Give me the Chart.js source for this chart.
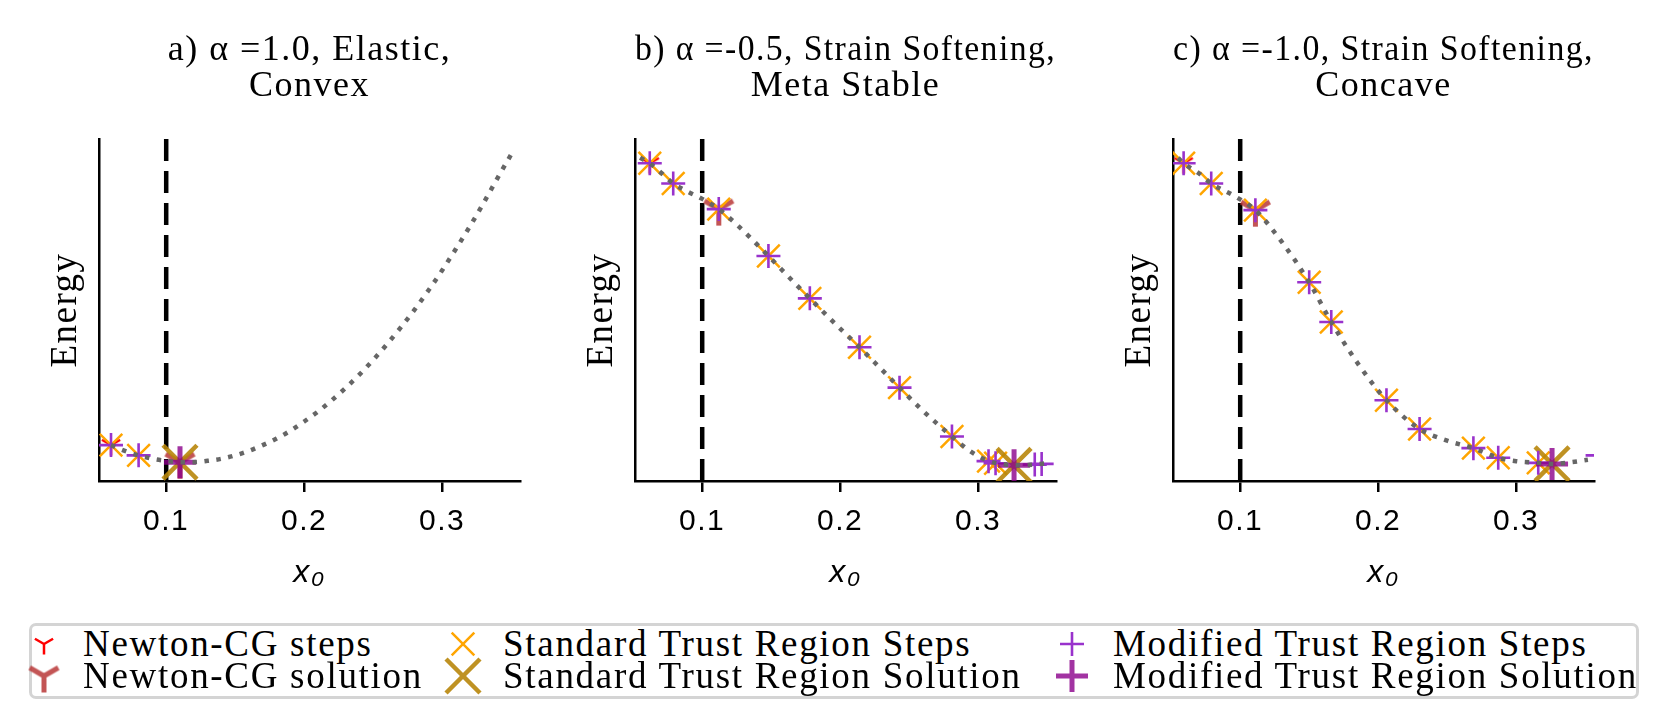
<!DOCTYPE html>
<html>
<head>
<meta charset="utf-8">
<script src="https://cdn.jsdelivr.net/npm/chart.js@4.4.0/dist/chart.umd.min.js"></script>
<style>
  body { margin: 0; background: #fff; width: 1666px; height: 728px; position: relative; overflow: hidden; }
  .panel { position: absolute; top: 0; }
  #legend { position: absolute; left: 29px; top: 623px; width: 1610px; height: 76px; box-sizing: border-box;
            border: 3px solid #d4d4d4; border-radius: 7px; }
  .lbl { position: absolute; font-family: 'Liberation Serif'; font-size: 37px; letter-spacing: 1.7px; line-height: 36px;
         white-space: nowrap; color: #000; }
  .mk { position: absolute; }
</style>
</head>
<body>
<div class="panel" style="left:0px"><canvas id="ca" width="560" height="610"></canvas></div>
<div class="panel" style="left:536px"><canvas id="cb" width="560" height="610"></canvas></div>
<div class="panel" style="left:1074px"><canvas id="cc" width="560" height="610"></canvas></div>
<div id="legend"></div>
<script>
// shared axis
const xTicks = [0.1, 0.2, 0.3];
const xTickLabels = ['0.1', '0.2', '0.3'];
const xRange = [0.0513, 0.3564];
const boundaryX = 0.1;

// a) alpha = 1.0
const aTitle = ['a) α =1.0, Elastic,', 'Convex'];
const aCurveX = [0.06, 0.07, 0.08, 0.09, 0.10, 0.11, 0.12, 0.13, 0.14, 0.15, 0.16, 0.17, 0.18, 0.19, 0.20, 0.21, 0.22, 0.23,
                 0.24, 0.25, 0.26, 0.27, 0.28, 0.29, 0.30, 0.31, 0.32, 0.33, 0.34, 0.35];
const aCurveY = [0.105, 0.088, 0.075, 0.065, 0.059, 0.055, 0.055, 0.059, 0.065, 0.075, 0.088, 0.105, 0.124, 0.147, 0.174,
                 0.203, 0.236, 0.272, 0.311, 0.354, 0.400, 0.449, 0.501, 0.557, 0.616, 0.679, 0.744, 0.813, 0.885, 0.955];
const aNewtonStepX = [0.06];
const aNewtonStepY = [0.105];
const aNewtonSolX = [0.11];
const aNewtonSolY = [0.055];
const aStdStepX = [0.06, 0.08];
const aStdStepY = [0.105, 0.075];
const aStdSolX = [0.11];
const aStdSolY = [0.055];
const aModStepX = [0.06, 0.08];
const aModStepY = [0.105, 0.075];
const aModSolX = [0.11];
const aModSolY = [0.055];

// b) alpha = -0.5
const bTitle = ['b) α =-0.5, Strain Softening,', 'Meta Stable'];
const bCurveX = [0.055, 0.062, 0.07, 0.079, 0.09, 0.10, 0.112, 0.125, 0.148, 0.165, 0.178, 0.195, 0.214, 0.23, 0.243,
                 0.26, 0.281, 0.295, 0.308, 0.32, 0.33, 0.34, 0.35];
const bCurveY = [0.945, 0.929, 0.902, 0.870, 0.845, 0.825, 0.795, 0.750, 0.658, 0.587, 0.534, 0.465, 0.391, 0.326, 0.273,
                 0.205, 0.130, 0.085, 0.058, 0.048, 0.046, 0.048, 0.052];
const bNewtonStepX = [0.062];
const bNewtonStepY = [0.929];
const bNewtonSolX = [0.112];
const bNewtonSolY = [0.795];
const bStdStepX = [0.062, 0.079, 0.112, 0.148, 0.178, 0.214, 0.243, 0.281, 0.3075, 0.3126];
const bStdStepY = [0.929, 0.870, 0.795, 0.658, 0.534, 0.391, 0.273, 0.130, 0.058, 0.052];
const bStdSolX = [0.326];
const bStdSolY = [0.046];
const bModStepX = [0.062, 0.079, 0.112, 0.148, 0.178, 0.214, 0.243, 0.281, 0.3075, 0.3126, 0.341, 0.346];
const bModStepY = [0.929, 0.870, 0.795, 0.658, 0.534, 0.391, 0.273, 0.130, 0.058, 0.052, 0.048, 0.050];
const bModSolX = [0.326];
const bModSolY = [0.046];

// c) alpha = -1.0
const cTitle = ['c) α =-1.0, Strain Softening,', 'Concave'];
const cCurveX = [0.055, 0.059, 0.07, 0.079, 0.095, 0.111, 0.13, 0.15, 0.166, 0.185, 0.206, 0.23, 0.25, 0.269, 0.287,
                 0.30, 0.316, 0.326, 0.34, 0.352];
const cCurveY = [0.945, 0.929, 0.900, 0.870, 0.835, 0.792, 0.700, 0.581, 0.465, 0.345, 0.236, 0.152, 0.118, 0.096, 0.068,
                 0.058, 0.053, 0.050, 0.055, 0.062];
const cNewtonStepX = [0.059];
const cNewtonStepY = [0.929];
const cNewtonSolX = [0.111];
const cNewtonSolY = [0.792];
const cStdStepX = [0.059, 0.079, 0.111, 0.150, 0.166, 0.206, 0.230, 0.269, 0.287, 0.316];
const cStdStepY = [0.929, 0.870, 0.792, 0.581, 0.465, 0.236, 0.152, 0.096, 0.068, 0.053];
const cStdSolX = [0.326];
const cStdSolY = [0.050];
const cModStepX = [0.059, 0.079, 0.111, 0.150, 0.166, 0.206, 0.230, 0.269, 0.287, 0.316, 0.359];
const cModStepY = [0.929, 0.870, 0.792, 0.581, 0.465, 0.236, 0.152, 0.096, 0.068, 0.053, 0.075];
const cModSolX = [0.326];
const cModSolY = [0.050];

const legendLabels = ['Newton-CG steps', 'Newton-CG solution', 'Standard Trust Region Steps',
                      'Standard Trust Region Solution', 'Modified Trust Region Steps', 'Modified Trust Region Solution'];

function pts(xs, ys) {
  return xs.map((x, i) => ({x: x, y: ys[i]}));
}

// matplotlib "tri_down" marker drawn on a small canvas
function triMarker(r, lw, color) {
  const c = document.createElement('canvas');
  const s = Math.ceil(2 * r + 2 * lw);
  c.width = s; c.height = s;
  const g = c.getContext('2d');
  const m = s / 2;
  g.strokeStyle = color; g.lineWidth = lw;
  g.beginPath();
  g.moveTo(m, m); g.lineTo(m, m + r);
  g.moveTo(m, m); g.lineTo(m - r * 0.866, m - r * 0.5);
  g.moveTo(m, m); g.lineTo(m + r * 0.866, m - r * 0.5);
  g.stroke();
  return c;
}

const marks = [
  {style: triMarker(10.5, 2.5, '#ff0000'), r: 10.5, lw: 2.5, color: '#ff0000'},
  {style: triMarker(16.5, 5, 'rgba(185,55,55,0.85)'), r: 16.5, lw: 5, color: 'rgba(185,55,55,0.85)'},
  {style: 'crossRot', r: 16, lw: 2.5, color: '#ffa500'},
  {style: 'crossRot', r: 24, lw: 4.5, color: 'rgba(184,134,11,0.9)'},
  {style: 'cross', r: 12, lw: 2.6, color: '#9932cc'},
  {style: 'cross', r: 16, lw: 5, color: 'rgba(139,0,139,0.8)'}
];

function markSet(m, data, order) {
  return {
    data: data, showLine: false, clip: 0, order: order,
    pointStyle: m.style, pointRadius: m.r, pointHoverRadius: m.r,
    pointBorderWidth: m.lw, borderColor: m.color, backgroundColor: m.color
  };
}

// wider text, closer to the Computer Modern look of the original
const spacing = {
  id: 'spacing',
  beforeDraw(chart) { chart.ctx.letterSpacing = '1.5px'; }
};

function panel(id, title, d) {
  new Chart(document.getElementById(id), {
    type: 'scatter',
    data: {
      datasets: [
        {data: pts(d.cx, d.cy), showLine: true, borderColor: '#666666', borderWidth: 4.5, borderDash: [4.5, 7.5],
         pointRadius: 0, cubicInterpolationMode: 'monotone', clip: 0, order: 0},
        markSet(marks[5], pts(d.msx, d.msy), 1),
        markSet(marks[4], pts(d.mx, d.my), 2),
        markSet(marks[3], pts(d.ssx, d.ssy), 3),
        markSet(marks[2], pts(d.sx, d.sy), 4),
        markSet(marks[1], pts(d.nsx, d.nsy), 5),
        markSet(marks[0], pts(d.nx, d.ny), 6),
        {data: [{x: boundaryX, y: 1}, {x: boundaryX, y: 0}], showLine: true, borderColor: '#000', borderWidth: 4.5,
         borderDash: [22, 10], pointRadius: 0, clip: 0, order: 7}
      ]
    },
    plugins: [spacing],
    options: {
      responsive: false,
      animation: false,
      events: [],
      layout: {padding: {left: 0, right: 40, top: 0, bottom: 0}},
      plugins: {
        legend: {display: false},
        tooltip: {enabled: false},
        title: {
          display: true, text: title, color: '#000', fullSize: false,
          font: {family: 'Liberation Serif', size: 36, weight: 'normal', lineHeight: 1.0},
          padding: {top: 33, bottom: 34}
        }
      },
      scales: {
        x: {
          type: 'linear', min: xRange[0], max: xRange[1],
          afterBuildTicks: s => { s.ticks = xTicks.map(v => ({value: v})); },
          afterFit: s => { s.height = 129; },
          ticks: {color: '#000', font: {family: 'Liberation Sans', size: 30}, padding: 12, maxRotation: 0,
                  autoSkip: false, callback: v => xTickLabels[xTicks.indexOf(v)]},
          grid: {display: true, drawOnChartArea: false, drawTicks: true, tickLength: 11, lineWidth: 2.5, color: '#000'},
          border: {display: true, width: 2.5, color: '#000'},
          title: {display: true, text: 'x₀', color: '#000',
                  font: {family: 'Liberation Sans', size: 32, style: 'italic'}, padding: {top: 0, bottom: 18}}
        },
        y: {
          type: 'linear', min: 0, max: 1,
          afterFit: s => { s.width = 99; },
          ticks: {display: false},
          grid: {display: false},
          border: {display: true, width: 2.5, color: '#000'},
          title: {display: true, text: 'Energy', color: '#000',
                  font: {family: 'Liberation Serif', size: 37}, padding: {top: 44, bottom: 0}}
        }
      }
    }
  });
}

panel('ca', aTitle, {cx: aCurveX, cy: aCurveY, nx: aNewtonStepX, ny: aNewtonStepY, nsx: aNewtonSolX, nsy: aNewtonSolY,
  sx: aStdStepX, sy: aStdStepY, ssx: aStdSolX, ssy: aStdSolY, mx: aModStepX, my: aModStepY, msx: aModSolX, msy: aModSolY});
panel('cb', bTitle, {cx: bCurveX, cy: bCurveY, nx: bNewtonStepX, ny: bNewtonStepY, nsx: bNewtonSolX, nsy: bNewtonSolY,
  sx: bStdStepX, sy: bStdStepY, ssx: bStdSolX, ssy: bStdSolY, mx: bModStepX, my: bModStepY, msx: bModSolX, msy: bModSolY});
panel('cc', cTitle, {cx: cCurveX, cy: cCurveY, nx: cNewtonStepX, ny: cNewtonStepY, nsx: cNewtonSolX, nsy: cNewtonSolY,
  sx: cStdStepX, sy: cStdStepY, ssx: cStdSolX, ssy: cStdSolY, mx: cModStepX, my: cModStepY, msx: cModSolX, msy: cModSolY});

// legend: 3 columns x 2 rows
const legRowY = [644, 676];
const legMarkX = [44, 463, 1072];
const legTextX = [83, 503, 1113];
for (let i = 0; i < legendLabels.length; i++) {
  const col = Math.floor(i / 2), row = i % 2;
  const m = marks[i];
  const cv = document.createElement('canvas');
  cv.width = 54; cv.height = 54;
  cv.className = 'mk';
  cv.style.left = (legMarkX[col] - 27) + 'px';
  cv.style.top = (legRowY[row] - 27) + 'px';
  const g = cv.getContext('2d');
  g.strokeStyle = m.color; g.lineWidth = m.lw;
  g.beginPath();
  if (m.style === 'cross') {
    g.moveTo(27 - m.r, 27); g.lineTo(27 + m.r, 27);
    g.moveTo(27, 27 - m.r); g.lineTo(27, 27 + m.r);
    g.stroke();
  } else if (m.style === 'crossRot') {
    const o = m.r * 0.7071;
    g.moveTo(27 - o, 27 - o); g.lineTo(27 + o, 27 + o);
    g.moveTo(27 - o, 27 + o); g.lineTo(27 + o, 27 - o);
    g.stroke();
  } else {
    g.drawImage(m.style, 27 - m.style.width / 2, 27 - m.style.height / 2);
  }
  document.body.appendChild(cv);
  const t = document.createElement('div');
  t.className = 'lbl';
  t.textContent = legendLabels[i];
  t.style.left = legTextX[col] + 'px';
  t.style.top = (legRowY[row] - 18) + 'px';
  document.body.appendChild(t);
}
</script>
</body>
</html>
